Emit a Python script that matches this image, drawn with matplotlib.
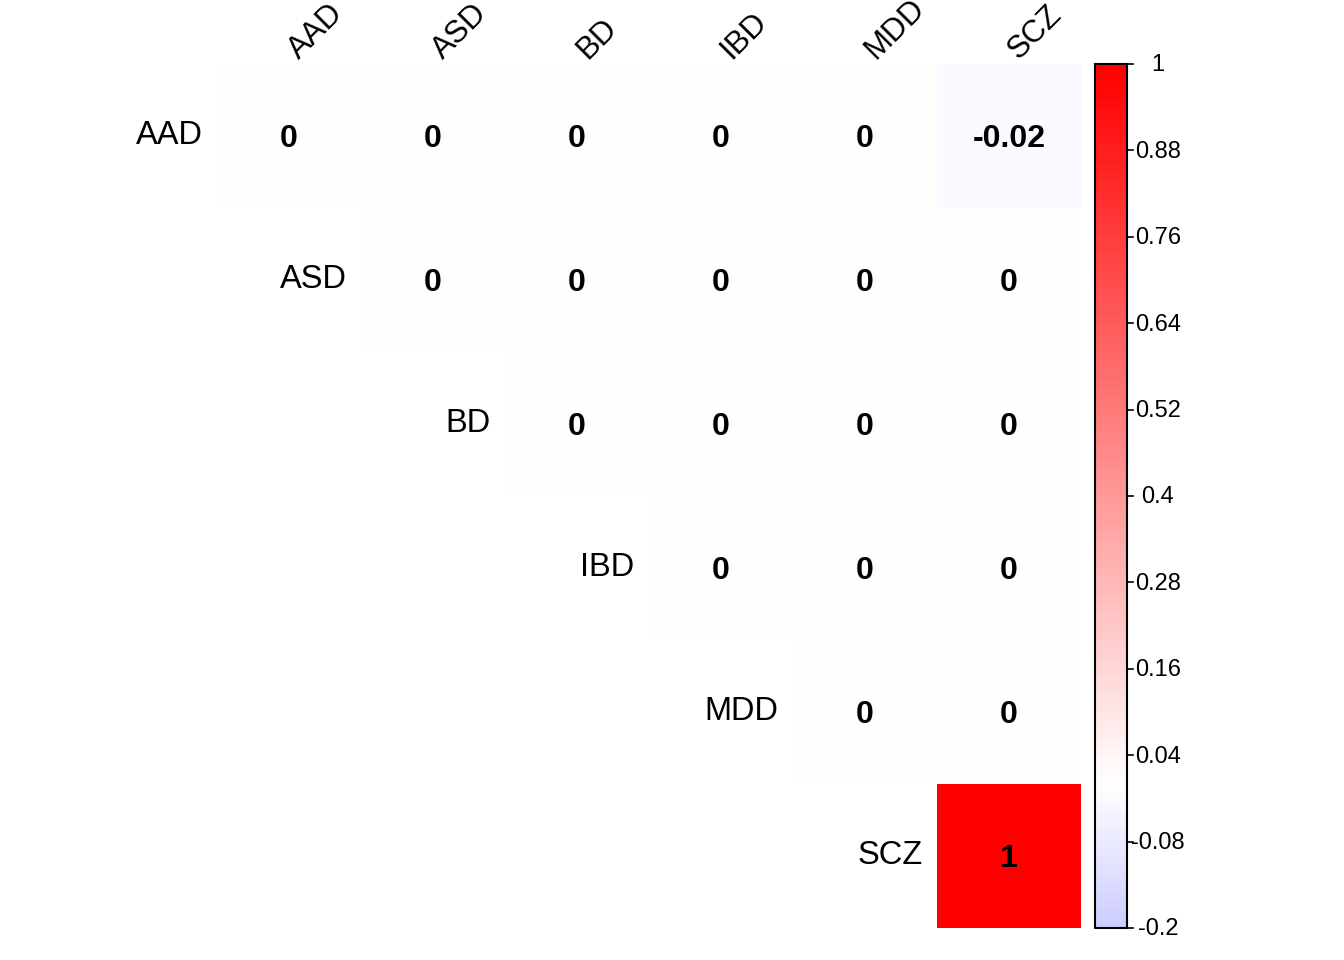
import matplotlib
matplotlib.use('Agg')
import matplotlib.pyplot as plt
import numpy as np
from matplotlib.colors import LinearSegmentedColormap, Normalize

plt.rcParams['font.family'] = ['Liberation Sans', 'DejaVu Sans']

labels = ['AAD', 'ASD', 'BD', 'IBD', 'MDD', 'SCZ']
# upper triangle (diagonal included), one row per trait
upper = [
    [0.003, -0.0045, -0.0045, -0.0045, -0.0045, -0.024],
    [0.003, 0.003, 0.003, 0.003, 0.003],
    [0.003, 0.003, 0.003, 0.003],
    [0.003, 0.003, 0.003],
    [0.003, 0.003],
    [1.0],
]
cbar_ticks = [1, 0.88, 0.76, 0.64, 0.52, 0.4, 0.28, 0.16, 0.04, -0.08, -0.2]
cbar_labels = ['1', '0.88', '0.76', '0.64', '0.52', '0.4', '0.28', '0.16', '0.04', '-0.08', '-0.2']
lim_lo, lim_hi = -0.2, 1.0

n = len(labels)
mat = np.full((n, n), np.nan)
for i, row in enumerate(upper):
    mat[i, i:] = row

cmap = LinearSegmentedColormap.from_list('bwr_cp', ['blue', 'white', 'red'], N=200)
norm = Normalize(vmin=-1, vmax=1)

fig = plt.figure(figsize=(13.44, 9.6), dpi=100)
ax = fig.add_axes([0, 0, 1, 1])
# 144 px per cell, grid starts at (217, 64) px
ax.set_xlim(-217 / 144, (1344 - 217) / 144)
ax.set_ylim((960 - 64) / 144, -64 / 144)
ax.axis('off')

ax.pcolormesh(np.arange(n + 1), np.arange(n + 1), np.ma.masked_invalid(mat),
              cmap=cmap, norm=norm, shading='flat')


def fmt(v):
    s = f"{round(v, 2):g}"
    return '0' if s == '-0' else s


for i in range(n):
    for j in range(i, n):
        ax.text(j + 0.5, i + 0.52, fmt(mat[i, j]), ha='center', va='center',
                fontsize=23, fontweight='bold', color='black')
    # row labels next to the diagonal
    ax.text(i - 0.1, i + 0.5, labels[i], ha='right', va='center', fontsize=23.5)
    # column labels on top
    ax.text(i + 0.57, -0.03, labels[i], ha='left', va='baseline', rotation=45,
            rotation_mode='anchor', fontsize=22.5)

# colour legend
cb_x0, cb_x1 = (1095 - 217) / 144, (1127 - 217) / 144
levels = np.linspace(lim_lo, lim_hi, 121)
ys = (lim_hi - levels) / (lim_hi - lim_lo) * n
mids = (levels[:-1] + levels[1:]) / 2
ax.pcolormesh([cb_x0, cb_x1], ys, mids.reshape(-1, 1), cmap=cmap, norm=norm, shading='flat')
ax.plot([cb_x0, cb_x1, cb_x1, cb_x0, cb_x0], [0, 0, n, n, 0], color='black', lw=1.5)
for t, lab in zip(cbar_ticks, cbar_labels):
    y = (lim_hi - t) / (lim_hi - lim_lo) * n
    ax.plot([cb_x1, cb_x1 + 0.045], [y, y], color='black', lw=1.2)
    ax.text((1158 - 217) / 144, y + 0.01, lab, ha='center', va='center', fontsize=17)

fig.savefig('out.png', dpi=100, facecolor='white')
